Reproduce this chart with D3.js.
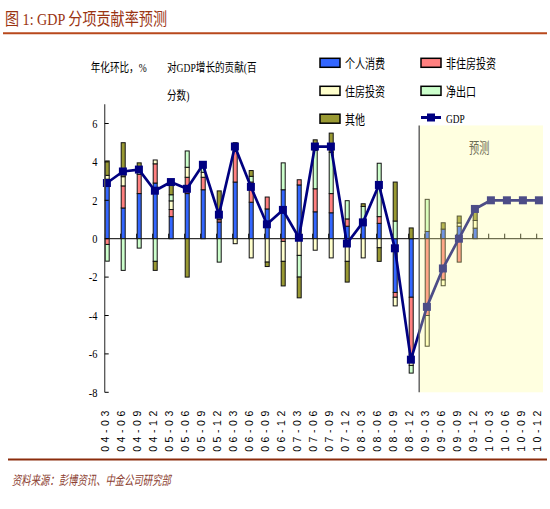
<!DOCTYPE html>
<html><head><meta charset="utf-8">
<script src="https://cdn.jsdelivr.net/npm/d3@7/dist/d3.min.js"></script>
<style>body{margin:0;background:#fff}svg{display:block}</style>
</head><body>
<svg id="c" width="550" height="509"></svg>
<script>
// ---- data ----
const categories = ["04-03","04-06","04-09","04-12","05-03","05-06","05-09","05-12",
  "06-03","06-06","06-09","06-12","07-03","07-06","07-09","07-12",
  "08-03","08-06","08-09","08-12","09-03","09-06","09-09","09-12",
  "10-03","10-06","10-09","10-12"];
const consumption  = [3.1,1.6,2.35,2.9,1.15,2.35,2.55,0.87,2.95,1.9,1.55,2.55,2.8,1.4,1.35,0.65,1.0,0.8,-2.8,-3.05,0.38,0.5,0.65,0.55,null,null,null,null];
const nonresInvest = [-0.3,1.15,1.0,1.0,0.37,0.85,0.65,0.12,1.6,1.05,0.62,-0.14,0.27,1.2,1.0,0.38,0,0.35,-0.25,-3.0,-4.0,-2.15,-1.22,0,null,null,null,null];
const residInvest  = [0.2,0.48,0.1,0.2,0.45,0.52,0.26,0,-0.26,-1.0,-1.22,-1.04,-0.87,-0.6,-1.0,-1.18,-1.0,-0.47,-0.45,-0.55,-1.6,-0.3,0.17,0.4,null,null,null,null];
const netExports   = [-0.87,-1.65,-0.49,-1.18,0.32,0.85,0.45,-1.22,0,0.3,0,1.4,-1.13,2.0,2.15,0.95,0.68,2.78,0.92,-0.4,1.67,0,0,0,null,null,null,null];
const other        = [0.75,1.77,0.5,-0.47,0.65,-2.0,0,1.5,0.45,0.3,-0.23,-1.28,-1.08,0.55,1.0,-1.08,0.14,-0.71,2.03,0.56,0,0.33,0.36,0.55,null,null,null,null];
const gdp          = [2.9,3.5,3.6,2.5,2.95,2.6,3.85,1.25,4.8,2.7,0.75,1.5,0.05,4.8,4.8,-0.25,0.85,2.8,-0.5,-6.3,-3.55,-1.55,0.0,1.55,2.0,2.0,2.0,2.0];
const yTicks = [-8,-6,-4,-2,0,2,4,6];
const seriesNames = ["个人消费","非住房投资","住房投资","净出口","其他"];
const gdpName = "GDP";
const forecastStart = "09-03";

// ---- styles ----
const seriesColors = ["#3366ff","#ff8080","#ffffcc","#ccffcc","#999933"];
const gdpColor = "#000080";
const cjk = "'Liberation Serif','Noto Sans CJK SC',serif";

const svg = d3.select("#c");
const x = d3.scalePoint().domain(categories).range([104.7, 536.7]);
const y = d3.scaleLinear().domain([-8, 7]).range([392.3, 104.3]);
const barW = 5, off = 2.2;
const plotRight = 543;

function txt(parent, px, py, s, size, sx, opt) {
  opt = opt || {};
  return parent.append("text")
    .attr("transform", `translate(${px},${py}) scale(${sx},1)`)
    .attr("font-family", opt.family || cjk)
    .attr("font-size", size)
    .attr("font-style", opt.style || "normal")
    .attr("fill", opt.fill || "#000")
    .attr("text-anchor", opt.anchor || "start")
    .text(s);
}

// title
txt(svg, 5, 25, "图 1: GDP 分项贡献率预测", 17, 0.83, {fill: "#9a3412"});
svg.append("line").attr("x1", 3).attr("x2", 547).attr("y1", 33.3).attr("y2", 33.3)
  .attr("stroke", "#b8491c").attr("stroke-width", 2);

// axis captions
txt(svg, 90.7, 72, "年化环比，%", 12, 0.8);
txt(svg, 167, 72, "对GDP增长的贡献(百", 12, 0.8);
txt(svg, 167, 100, "分数)", 12, 0.8);

// zero line
svg.append("line").attr("x1", x(categories[0])).attr("x2", plotRight)
  .attr("y1", y(0)).attr("y2", y(0)).attr("stroke", "#000").attr("stroke-width", 1);

// x ticks (inside, upward)
svg.append("g").selectAll("line").data(categories).join("line")
  .attr("x1", d => x(d)).attr("x2", d => x(d))
  .attr("y1", y(0)).attr("y2", y(0) - 5).attr("stroke", "#000");

// stacked bars
const seriesArrays = [consumption, nonresInvest, residInvest, netExports, other];
const rows = categories.map((c, i) => {
  const r = {cat: c};
  seriesNames.forEach((k, j) => r[k] = seriesArrays[j][i] == null ? 0 : seriesArrays[j][i]);
  return r;
});
const stacked = d3.stack().keys(seriesNames).offset(d3.stackOffsetDiverging)(rows);
svg.append("g").selectAll("g").data(stacked).join("g")
  .attr("fill", (d, i) => seriesColors[i])
  .selectAll("rect").data(d => d.filter(p => Math.abs(p[1] - p[0]) > 1e-9)).join("rect")
  .attr("x", d => x(d.data.cat) + 0.5)
  .attr("width", barW - 1)
  .attr("y", d => y(Math.max(d[0], d[1])))
  .attr("height", d => Math.abs(y(d[0]) - y(d[1])))
  .attr("stroke", "#111").attr("stroke-width", 1);

// GDP line
const gdpPts = categories.map((c, i) => [x(c) + off, y(gdp[i])]);
svg.append("path").attr("d", d3.line()(gdpPts)).attr("fill", "none")
  .attr("stroke", gdpColor).attr("stroke-width", 2.7).attr("stroke-linejoin", "round");
svg.append("g").selectAll("rect").data(gdpPts).join("rect")
  .attr("x", d => d[0] - 4).attr("y", d => d[1] - 4)
  .attr("width", 8).attr("height", 8).attr("fill", gdpColor);

// forecast shading
const fx = (x(categories[categories.indexOf(forecastStart) - 1]) + barW + x(forecastStart)) / 2;
svg.append("rect").attr("x", fx).attr("y", y(5.9)).attr("width", plotRight - fx)
  .attr("height", y(-8) - y(5.9)).attr("fill", "#ffff99").attr("opacity", 0.3);
svg.append("line").attr("x1", fx).attr("x2", fx).attr("y1", y(5.9)).attr("y2", y(-8))
  .attr("stroke", "#666").attr("stroke-width", 1.5);
txt(svg, 469, 153, "预测", 15, 0.68, {fill: "#6b6b52"});

// y axis
svg.append("line").attr("x1", x(categories[0])).attr("x2", x(categories[0]))
  .attr("y1", y(7)).attr("y2", y(-8)).attr("stroke", "#555").attr("stroke-width", 1.3);
const yg = svg.append("g");
yTicks.forEach(t => {
  yg.append("line").attr("x1", x(categories[0])).attr("x2", x(categories[0]) + 4)
    .attr("y1", y(t)).attr("y2", y(t)).attr("stroke", "#000");
  txt(yg, 97.5, y(t) + 4.3, String(t), 13, 0.8, {anchor: "end", family: "'Liberation Serif',serif"});
});

// x labels
svg.append("g").selectAll("text").data(categories).join("text")
  .attr("transform", d => `translate(${x(d) + 3.8},407) rotate(-90)`)
  .attr("text-anchor", "end")
  .attr("font-family", "'Liberation Sans',Arial,sans-serif")
  .attr("font-size", 10.5)
  .attr("letter-spacing", 3.6)
  .text(d => d);

// legend
const legPos = [[320, 62.8], [421, 62.8], [320, 90.8], [421, 90.8], [320, 118.7]];
seriesNames.forEach((n, i) => {
  const [lx, ly] = legPos[i];
  svg.append("rect").attr("x", lx).attr("y", ly - 4.5).attr("width", 20).attr("height", 9)
    .attr("fill", seriesColors[i]).attr("stroke", "#000").attr("stroke-width", 1.5);
  txt(svg, lx + 25, ly + 5, n, 13, 0.77);
});
svg.append("line").attr("x1", 421).attr("x2", 441).attr("y1", 117.5).attr("y2", 117.5)
  .attr("stroke", gdpColor).attr("stroke-width", 3);
svg.append("rect").attr("x", 427).attr("y", 113.5).attr("width", 8).attr("height", 8).attr("fill", gdpColor);
txt(svg, 446, 122.5, gdpName, 13, 0.72, {family: "'Liberation Serif',serif"});

// footer
svg.append("line").attr("x1", 8).attr("x2", 547).attr("y1", 459.5).attr("y2", 459.5)
  .attr("stroke", "#8b2c0c").attr("stroke-width", 2);
txt(svg, 12, 485, "资料来源：彭博资讯、中金公司研究部", 13, 0.72, {style: "italic", fill: "#8c4030"});
</script>
</body></html>
